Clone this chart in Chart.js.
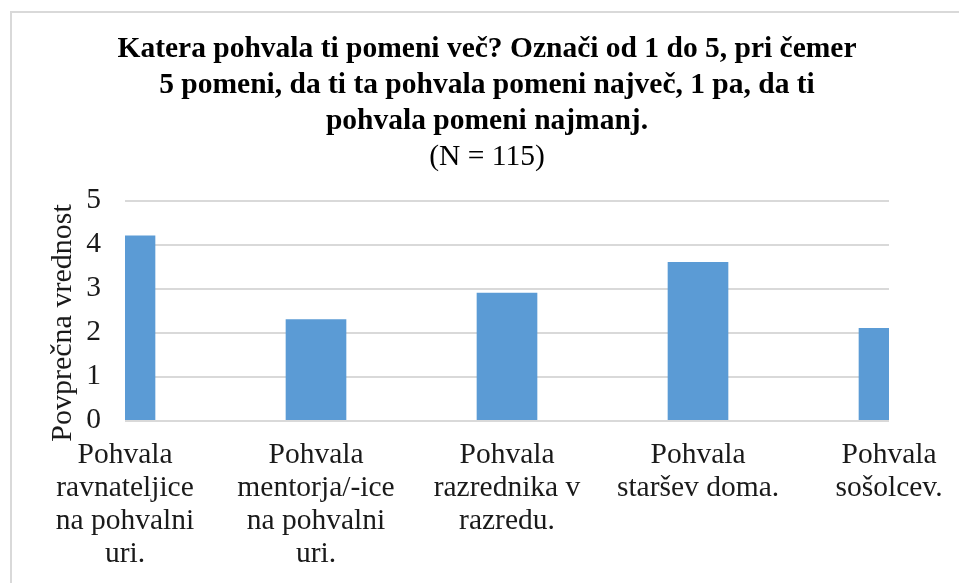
<!DOCTYPE html>
<html>
<head>
<meta charset="utf-8">
<script src="https://cdn.jsdelivr.net/npm/chart.js@4.4.1/dist/chart.umd.min.js"></script>
<style>
  html, body { margin: 0; padding: 0; background: #fff; overflow: hidden; }
  #wrap { position: relative; width: 959px; height: 583px; }
  #frame { position: absolute; left: 10px; top: 11px; width: 1000px; height: 1000px; border: 2px solid #d9d9d9; box-sizing: border-box; }
  canvas { position: absolute; left: 0; top: 0; }
</style>
</head>
<body>
<div id="wrap">
  <div id="frame"></div>
  <canvas id="c" width="959" height="583"></canvas>
</div>
<script>
const titleLines = [
  "Katera pohvala ti pomeni več? Označi od 1 do 5, pri čemer",
  "5 pomeni, da ti ta pohvala pomeni največ, 1 pa, da ti",
  "pohvala pomeni najmanj."
];
const subtitleText = "(N = 115)";
const yAxisTitle = "Povprečna vrednost";
const categories = [
  ["Pohvala", "ravnateljice", "na pohvalni", "uri."],
  ["Pohvala", "mentorja/-ice", "na pohvalni", "uri."],
  ["Pohvala", "razrednika v", "razredu."],
  ["Pohvala", "staršev doma."],
  ["Pohvala", "sošolcev."]
];
const values = [4.2, 2.3, 2.9, 3.6, 2.1];
const yTicks = [0, 1, 2, 3, 4, 5];

const FONT = "'Liberation Serif', 'Times New Roman', serif";
const FS = 29.5;

const yTitlePlugin = {
  id: 'yTitle',
  afterDraw(chart) {
    const ca = chart.chartArea;
    const ctx = chart.ctx;
    ctx.save();
    ctx.translate(ca.left - 62, ca.bottom + 21);
    ctx.rotate(-Math.PI / 2);
    ctx.font = "30px " + FONT;
    ctx.fillStyle = '#1a1a1a';
    ctx.textAlign = 'start';
    ctx.textBaseline = 'middle';
    ctx.fillText(yAxisTitle, 0, 0);
    ctx.restore();
  }
};

new Chart(document.getElementById('c'), {
  type: 'bar',
  data: {
    labels: categories,
    datasets: [{
      data: values,
      backgroundColor: '#5b9bd5',
      borderWidth: 0,
      barThickness: 60,
      clip: 0
    }]
  },
  options: {
    responsive: false,
    animation: false,
    devicePixelRatio: 1,
    layout: { padding: { left: 85, right: 70, top: 0, bottom: 0 } },
    plugins: {
      legend: { display: false },
      tooltip: { enabled: false },
      title: {
        display: true,
        text: titleLines,
        color: '#000',
        font: { family: FONT, size: FS, weight: 'bold', lineHeight: 36 / FS },
        padding: { top: 31, bottom: 0 }
      },
      subtitle: {
        display: true,
        text: subtitleText,
        color: '#000',
        font: { family: FONT, size: FS, weight: 'normal', lineHeight: 36 / FS },
        padding: { top: 0, bottom: 25.7 }
      }
    },
    scales: {
      x: {
        type: 'category',
        offset: false,
        grid: { display: false, drawTicks: false },
        border: { display: false },
        ticks: {
          color: '#1a1a1a',
          padding: 18,
          maxRotation: 0,
          autoSkip: false,
          font: { family: FONT, size: FS, lineHeight: 33 / FS }
        },
        afterFit(scale) {
          scale.height = 162.3;
          scale.paddingLeft = 0;
          scale.paddingRight = 0;
        }
      },
      y: {
        min: 0,
        max: 5,
        afterBuildTicks(scale) { scale.ticks = yTicks.map(v => ({ value: v })); },
        grid: { color: '#d9d9d9', lineWidth: 2, drawTicks: false },
        border: { display: false },
        ticks: {
          color: '#1a1a1a',
          padding: 24,
          font: { family: FONT, size: FS }
        },
        afterFit(scale) { scale.width = 40; }
      }
    }
  },
  plugins: [yTitlePlugin]
});
</script>
</body>
</html>
